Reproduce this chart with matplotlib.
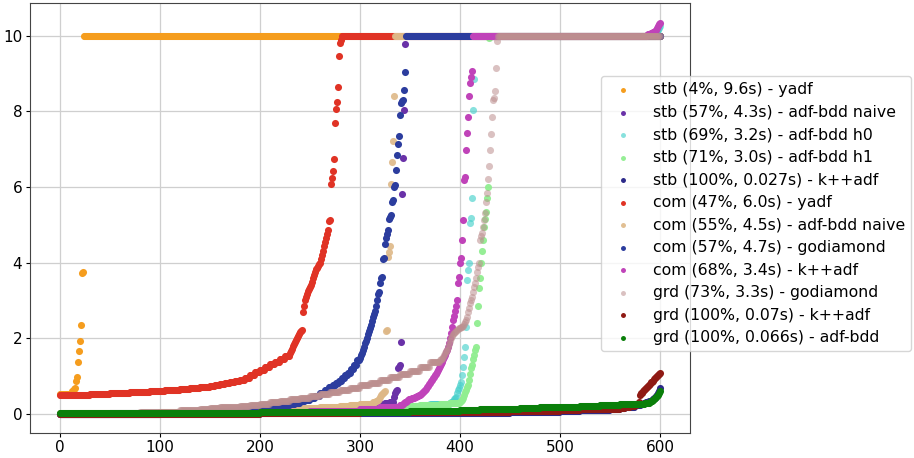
import numpy as np
import matplotlib
matplotlib.use("Agg")
import matplotlib.pyplot as plt

# ---- data: each series is a sorted list of (count, runtime) runs ----
labels = [
    "stb (4%, 9.6s) - yadf",
    "stb (57%, 4.3s) - adf-bdd naive",
    "stb (69%, 3.2s) - adf-bdd h0",
    "stb (71%, 3.0s) - adf-bdd h1",
    "stb (100%, 0.027s) - k++adf",
    "com (47%, 6.0s) - yadf",
    "com (55%, 4.5s) - adf-bdd naive",
    "com (57%, 4.7s) - godiamond",
    "com (68%, 3.4s) - k++adf",
    "grd (73%, 3.3s) - godiamond",
    "grd (100%, 0.07s) - k++adf",
    "grd (100%, 0.066s) - adf-bdd",
]

stb_yadf = [(12, 0.52), (2, 0.60), (1, 0.65), (1, 0.68), (1, 0.86), (1, 0.97), (1, 1.36),
            (1, 1.66), (1, 1.93), (1, 2.36), (1, 3.73), (1, 3.76), (577, 10.0)]

stb_bdd_naive = [(100, 0.0), (100, 0.02), (50, 0.04), (50, 0.07), (10, 0.12), (10, 0.20),
                 (5, 0.25), (5, 0.28), (4, 0.31),
                 (1, 0.45), (1, 0.55), (1, 0.60), (1, 0.63), (1, 1.20), (1, 1.25), (1, 1.29),
                 (1, 1.90), (1, 5.81), (1, 6.77), (1, 8.03), (1, 9.78), (255, 10.0)]

stb_bdd_h0 = [(100, 0.0), (100, 0.02), (100, 0.05), (25, 0.10), (25, 0.15), (20, 0.20), (20, 0.25),
              (1, 0.28), (1, 0.30), (1, 0.32), (1, 0.35), (1, 0.38), (1, 0.41), (1, 0.45),
              (1, 0.55), (1, 0.63), (1, 0.68), (1, 0.75), (1, 0.85), (1, 1.02), (1, 1.24),
              (1, 1.50), (1, 1.77), (1, 2.30), (1, 3.54), (1, 3.80), (1, 4.00),
              (1, 5.04), (1, 5.17), (1, 5.71), (1, 8.03), (1, 8.87), (181, 10.0),
              (1, 10.05), (1, 10.10), (1, 10.15), (1, 10.20), (1, 10.25)]

stb_bdd_h1 = [(100, 0.0), (100, 0.03), (100, 0.07), (20, 0.12), (20, 0.16), (20, 0.20), (20, 0.23),
              (10, 0.25), (10, 0.28),
              (1, 0.30), (1, 0.33), (1, 0.36), (1, 0.42), (1, 0.50), (1, 0.58), (1, 0.63),
              (1, 0.70), (1, 0.76), (1, 0.90), (1, 1.05), (1, 1.20), (1, 1.30),
              (1, 1.45), (1, 1.56), (1, 1.70), (1, 1.76),
              (1, 2.40), (1, 2.84), (1, 3.33), (1, 3.60), (1, 3.98), (1, 4.30),
              (1, 4.60), (1, 4.95), (1, 5.15), (1, 5.34), (1, 5.70), (1, 6.00), (1, 9.94),
              (171, 10.0)]

stb_kpp = [(200, 0.0), (100, 0.01), (100, 0.02), (50, 0.03), (50, 0.05), (20, 0.07), (20, 0.09),
           (10, 0.11), (10, 0.13), (5, 0.15), (5, 0.17), (5, 0.19), (5, 0.22),
           (1, 0.24), (1, 0.25), (1, 0.26), (1, 0.27), (1, 0.28), (1, 0.29), (1, 0.30),
           (1, 0.31), (1, 0.32), (1, 0.33), (1, 0.34), (1, 0.35), (1, 0.37), (1, 0.39),
           (1, 0.41), (1, 0.43), (1, 0.46), (1, 0.50), (1, 0.55), (1, 0.60), (1, 0.67)]

com_yadf = [(10, 0.49), (10, 0.50), (10, 0.51), (10, 0.52), (10, 0.53), (10, 0.54), (10, 0.55),
            (10, 0.565), (10, 0.58), (10, 0.595),
            (5, 0.61), (5, 0.62), (5, 0.63), (5, 0.64), (5, 0.65), (5, 0.66), (5, 0.67), (5, 0.685),
            (5, 0.70), (5, 0.71), (5, 0.73), (5, 0.755), (5, 0.78), (5, 0.81), (5, 0.84), (5, 0.87),
            (5, 0.90), (5, 0.96), (5, 1.03), (5, 1.10), (5, 1.17), (5, 1.24), (5, 1.31), (5, 1.38),
            (5, 1.45), (5, 1.54),
            (1, 1.62), (1, 1.66), (1, 1.72), (1, 1.79), (1, 1.85), (1, 1.90), (1, 1.95), (1, 2.00),
            (1, 2.06), (1, 2.12), (1, 2.17), (1, 2.20), (1, 2.22), (1, 2.70), (1, 2.85), (1, 3.00),
            (1, 3.08), (1, 3.16), (1, 3.24), (1, 3.30), (1, 3.36), (1, 3.42), (1, 3.48), (1, 3.58),
            (1, 3.68), (1, 3.76), (1, 3.82), (1, 3.87), (1, 3.91), (1, 3.95), (1, 3.98), (1, 4.10),
            (1, 4.20), (1, 4.32), (1, 4.45), (1, 4.55), (1, 4.65), (1, 4.75), (1, 4.85), (1, 5.10),
            (1, 5.14), (1, 6.07), (1, 6.25), (1, 6.42), (1, 6.74), (1, 7.70), (1, 8.07), (1, 8.24),
            (1, 8.65), (1, 9.47), (1, 9.80), (1, 9.90), (319, 10.0)]

com_bdd_naive = [(50, 0.01), (50, 0.03), (50, 0.06), (50, 0.09), (20, 0.11), (20, 0.13), (20, 0.15),
                 (20, 0.18), (10, 0.20), (10, 0.22), (10, 0.25), (3, 0.27), (3, 0.30), (2, 0.33),
                 (1, 0.36), (1, 0.40), (1, 0.45), (1, 0.50), (1, 0.53), (1, 0.56), (1, 0.58), (1, 0.60),
                 (1, 2.20), (1, 2.21), (1, 4.15), (1, 4.28), (1, 4.45), (1, 6.07), (1, 6.65),
                 (1, 7.22), (1, 8.40), (266, 10.0)]

com_godiamond = [(50, 0.0), (50, 0.01), (50, 0.03), (10, 0.06), (10, 0.08), (10, 0.10), (10, 0.12),
                 (10, 0.14), (10, 0.17), (10, 0.20), (10, 0.23), (5, 0.26), (5, 0.29), (5, 0.33),
                 (5, 0.37), (5, 0.42), (5, 0.48), (5, 0.54), (4, 0.62), (4, 0.70), (3, 0.76),
                 (3, 0.82), (3, 0.88), (3, 0.95), (3, 1.02), (3, 1.08), (3, 1.18), (3, 1.30), (3, 1.42),
                 (1, 1.48), (1, 1.55), (1, 1.62), (1, 1.70), (1, 1.78), (1, 1.86), (1, 1.93), (1, 2.00),
                 (1, 2.10), (1, 2.20), (1, 2.28), (1, 2.36), (1, 2.45), (1, 2.55), (1, 2.64), (1, 2.72),
                 (1, 2.85), (1, 3.00), (1, 3.18), (1, 3.23), (1, 3.45), (1, 3.60), (1, 3.62), (1, 4.10),
                 (1, 4.13), (1, 4.50), (1, 4.64), (1, 4.75), (1, 4.85), (1, 5.15), (1, 5.20), (1, 5.26),
                 (1, 5.60), (1, 5.65), (1, 6.00), (1, 6.05), (1, 6.45), (1, 6.84), (1, 7.13), (1, 7.35),
                 (1, 7.90), (1, 8.22), (1, 8.27), (1, 8.30), (1, 8.56), (1, 9.03), (255, 10.0)]

com_kpp = [(100, 0.0), (100, 0.02), (50, 0.05), (50, 0.08), (20, 0.13), (20, 0.18),
           (1, 0.22), (1, 0.23), (1, 0.24), (1, 0.26), (1, 0.28), (1, 0.30), (1, 0.32), (1, 0.34),
           (1, 0.36), (1, 0.38), (1, 0.39), (1, 0.40), (1, 0.41), (1, 0.42), (1, 0.43), (1, 0.44),
           (1, 0.45), (1, 0.46), (1, 0.48), (1, 0.49), (1, 0.50), (1, 0.52), (1, 0.55), (1, 0.57),
           (1, 0.60), (1, 0.63), (1, 0.66), (1, 0.70), (1, 0.74), (1, 0.78), (1, 0.82), (1, 0.86),
           (1, 0.90), (1, 0.94), (1, 0.98), (1, 1.02), (1, 1.06), (1, 1.10), (1, 1.15), (1, 1.20),
           (1, 1.26), (1, 1.32), (1, 1.38), (1, 1.44), (1, 1.50), (1, 1.56), (1, 1.63), (1, 1.70),
           (1, 1.78), (1, 1.86), (1, 2.00), (1, 2.13), (1, 2.30), (1, 2.48), (1, 2.60), (1, 2.72),
           (1, 2.85), (1, 3.00), (1, 3.45), (1, 3.62), (1, 3.98), (1, 4.11), (1, 4.60), (1, 5.12),
           (1, 6.18), (1, 6.27), (1, 6.99), (1, 7.44), (1, 7.86), (1, 8.40), (1, 8.74), (1, 8.92),
           (1, 9.07), (174, 10.0),
           (1, 10.02), (1, 10.04), (1, 10.05), (1, 10.06), (1, 10.07), (1, 10.08), (1, 10.09),
           (1, 10.10), (1, 10.12), (1, 10.15), (1, 10.20), (1, 10.25), (1, 10.30), (1, 10.35)]

grd_godiamond = [(20, 0.0), (20, 0.01), (20, 0.02), (20, 0.03), (20, 0.045), (20, 0.06),
                 (10, 0.09), (10, 0.11), (10, 0.13), (10, 0.15), (10, 0.17), (10, 0.19), (10, 0.21),
                 (10, 0.235), (10, 0.26), (10, 0.30), (10, 0.34), (10, 0.38), (10, 0.43), (10, 0.48),
                 (10, 0.53), (10, 0.58), (10, 0.63), (10, 0.68), (10, 0.75), (10, 0.82), (10, 0.90),
                 (10, 0.98), (10, 1.06), (10, 1.14), (10, 1.25), (10, 1.36),
                 (1, 1.42), (1, 1.44), (1, 1.46), (1, 1.50), (1, 1.55), (1, 1.60), (1, 1.65), (1, 1.70),
                 (1, 1.77), (1, 1.85), (1, 1.92), (1, 2.00), (1, 2.06), (1, 2.10), (1, 2.13), (1, 2.16),
                 (1, 2.19), (1, 2.22), (1, 2.24), (1, 2.26), (1, 2.28), (1, 2.29), (1, 2.30), (1, 2.33),
                 (1, 2.38), (1, 2.43), (1, 2.48), (1, 2.57), (1, 2.70), (1, 2.80), (1, 2.92), (1, 3.00),
                 (1, 3.10), (1, 3.23), (1, 3.35), (1, 3.45), (1, 3.60), (1, 3.76), (1, 3.88), (1, 3.98),
                 (1, 4.60), (1, 4.70), (1, 4.77), (1, 4.95), (1, 5.12), (1, 5.30), (1, 5.60), (1, 5.85),
                 (1, 6.20), (1, 6.55), (1, 6.98), (1, 7.40), (1, 7.86), (1, 8.30), (1, 8.35), (1, 8.54),
                 (1, 9.14), (1, 9.87), (163, 10.0)]

grd_kpp = [(200, 0.0), (100, 0.02), (100, 0.04), (50, 0.06), (50, 0.08), (20, 0.10), (20, 0.12),
           (20, 0.14), (5, 0.16), (5, 0.18), (5, 0.20), (2, 0.22), (2, 0.25),
           (1, 0.32), (1, 0.50), (1, 0.54), (1, 0.56), (1, 0.60), (1, 0.63), (1, 0.65), (1, 0.67),
           (1, 0.70), (1, 0.74), (1, 0.76), (1, 0.80), (1, 0.83), (1, 0.85), (1, 0.88), (1, 0.91),
           (1, 0.94), (1, 0.97), (1, 1.00), (1, 1.02), (1, 1.05), (1, 1.08)]

grd_bdd = [(100, 0.02), (100, 0.03), (100, 0.045), (50, 0.06), (50, 0.08), (20, 0.10), (20, 0.12),
           (20, 0.13), (20, 0.15), (20, 0.17), (20, 0.19), (20, 0.21), (20, 0.23), (20, 0.25),
           (5, 0.27), (5, 0.29), (1, 0.31), (1, 0.33), (1, 0.35), (1, 0.37), (1, 0.39), (1, 0.41),
           (1, 0.44), (1, 0.47), (1, 0.50), (1, 0.55), (1, 0.60)]

series = [stb_yadf, stb_bdd_naive, stb_bdd_h0, stb_bdd_h1, stb_kpp, com_yadf, com_bdd_naive,
          com_godiamond, com_kpp, grd_godiamond, grd_kpp, grd_bdd]

colors = ["#f59d1e", "#6a32a8", "#48d1cc", "#90ee90", "#2d2a8a", "#e03325", "#deb887",
          "#2c3d9e", "#c043b9", "#bc8f8f", "#8f1a14", "#0a7f0a"]
alphas = [1.0, 1.0, 0.65, 0.95, 1.0, 1.0, 0.9, 1.0, 1.0, 0.55, 1.0, 1.0]


def expand(runs):
    vals = []
    for count, value in runs:
        vals.extend([value] * count)
    return np.array(vals)


fig = plt.figure(figsize=(9.14, 4.58), dpi=100)
ax = fig.add_axes([30 / 914, 25.3 / 458, 660 / 914, 429.4 / 458])

for runs, lab, col, a in zip(series, labels, colors, alphas):
    y = expand(runs)
    x = np.arange(len(y))
    ax.scatter(x, y, s=26, color=col, alpha=a, label=lab, linewidths=0)

ax.set_axisbelow(True)
ax.grid(True, color="#cfcfcf", linewidth=0.9)
ax.set_xlim(-30, 630)
ax.set_ylim(-0.5, 10.86)
ax.set_xticks([0, 100, 200, 300, 400, 500, 600])
ax.set_yticks([0, 2, 4, 6, 8, 10])
ax.tick_params(labelsize=11, length=3, pad=2.5)
for sp in ax.spines.values():
    sp.set_color("#444444")

leg = ax.legend(loc="upper left", bbox_to_anchor=(601 / 914, 1 - 76 / 458),
                bbox_transform=fig.transFigure, fontsize=11.3, markerscale=0.7,
                labelspacing=0.48, borderaxespad=0, handletextpad=0.9)
fig.savefig("out.png", dpi=100)
